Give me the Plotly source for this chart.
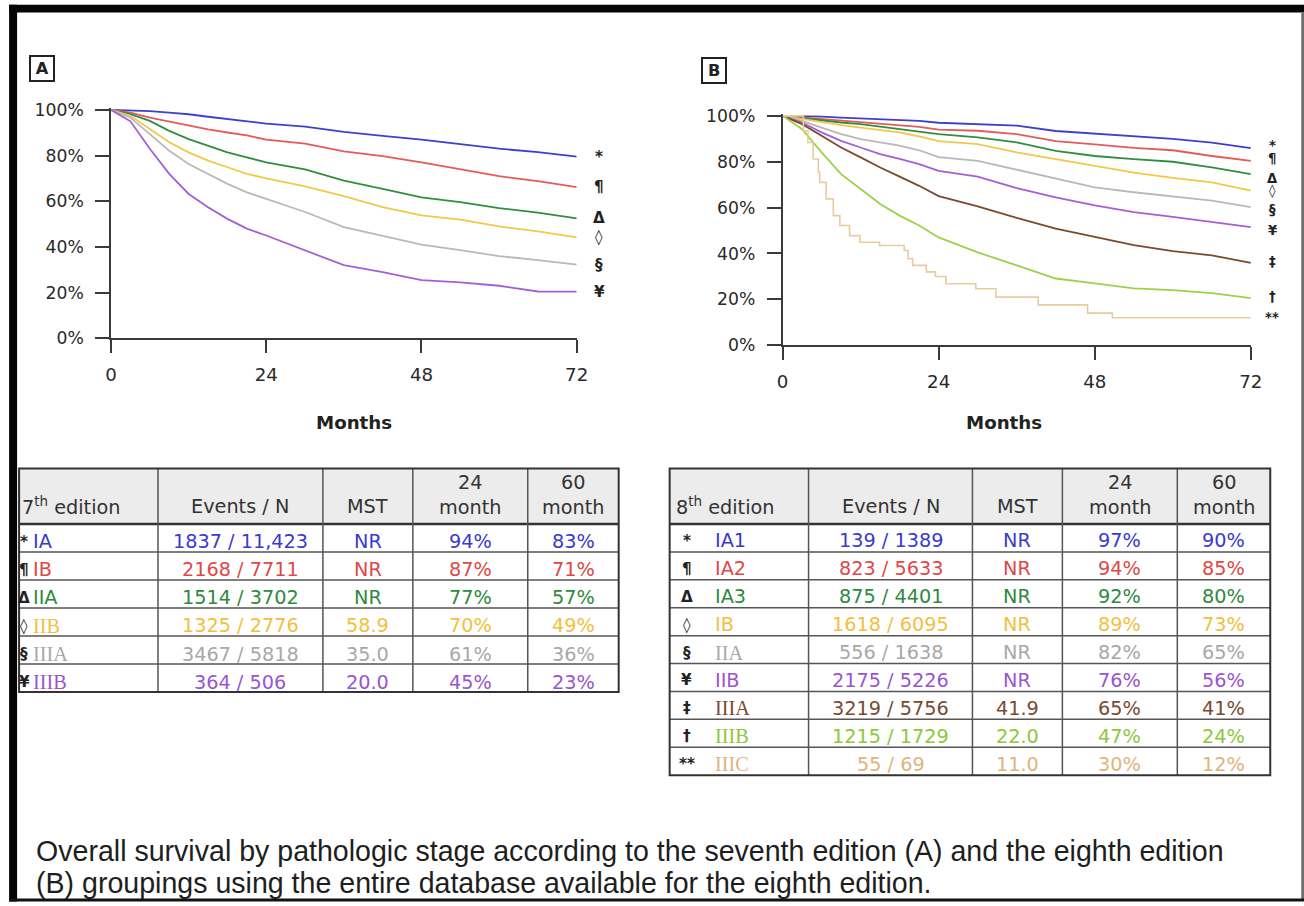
import plotly.graph_objects as go

# Layout is written in 1304 x 906 page pixels; K converts them to CSS pixels of the
# page, which carries the browser's default body margin around the figure.
PAGE_W, PAGE_H = 1304, 906
K = 1.0133
M = 8
DX, DY = 3.0, 3.5
W = round(PAGE_W * K - 2 * M)
H = round(PAGE_H * K - 2 * M)

# ---------------------------------------------------------------- data
months = [0, 3, 6, 9, 12, 15, 18, 21, 24, 30, 36, 42, 48, 54, 60, 66, 72]
x_ticks = [0, 24, 48, 72]
y_ticks = [0, 20, 40, 60, 80, 100]
y_tick_text = ["0%", "20%", "40%", "60%", "80%", "100%"]

# 7th edition, overall survival (%)
os7_ia = [100, 99.8, 99.5, 98.8, 98.1, 97.0, 95.9, 95.0, 94, 92.7, 90.4, 88.6, 87.0, 85.0, 83, 81.5, 79.5]
os7_ib = [100, 98.8, 96.6, 94.8, 93.0, 91.5, 90.1, 88.8, 87, 85.2, 81.8, 79.8, 77.0, 74.0, 71, 68.8, 66.2]
os7_iia = [100, 98.1, 95.2, 90.8, 87.2, 84.3, 81.4, 79.2, 77, 74.0, 69.0, 65.4, 61.7, 59.6, 57, 55.0, 52.5]
os7_iib = [100, 97.4, 91.6, 85.8, 81.4, 77.8, 74.9, 72.0, 70, 66.5, 62.2, 57.4, 53.8, 52.0, 49, 46.8, 44.2]
os7_iiia = [100, 96.6, 89.4, 82.1, 76.3, 71.9, 67.6, 63.9, 61, 55.3, 48.7, 45.0, 41.0, 38.6, 36, 34.2, 32.3]
os7_iiib = [100, 95.0, 83.0, 72.0, 63.2, 57.4, 52.3, 48.0, 45, 38.5, 32.0, 29.0, 25.5, 24.5, 23, 20.5, 20.4]

# 8th edition, overall survival (%)
os8_ia1 = [100, 99.9, 99.7, 99.2, 98.8, 98.5, 98.3, 97.8, 97, 96.4, 95.7, 93.4, 92.2, 91.2, 90, 88.3, 85.9]
os8_ia2 = [100, 99.3, 98.6, 97.8, 97.1, 96.4, 95.7, 95.2, 94, 93.5, 92.0, 89.0, 87.6, 86.0, 85, 82.5, 80.4]
os8_ia3 = [100, 99.0, 97.8, 97.1, 96.4, 95.3, 94.2, 93.3, 92, 90.6, 88.4, 84.7, 82.5, 81.1, 80, 77.5, 74.6]
os8_ib = [100, 98.6, 97.1, 96.0, 94.9, 93.8, 92.8, 91.0, 89, 87.7, 84.1, 81.1, 78.2, 75.3, 73, 71.0, 67.4]
os8_iia = [100, 97.8, 94.9, 92.0, 89.9, 88.4, 87.0, 85.0, 82, 80.4, 76.5, 72.4, 68.8, 66.7, 65, 63.0, 60.2]
os8_iib = [100, 97.1, 92.8, 89.1, 86.2, 83.3, 81.2, 79.0, 76, 73.5, 68.5, 64.5, 61.0, 58.0, 56, 53.7, 51.5]
os8_iiia = [100, 96.4, 91.3, 86.2, 81.9, 77.5, 73.5, 69.5, 65, 60.5, 55.5, 50.8, 47.2, 43.6, 41, 39.2, 35.9]
os8_iiib = [100, 94.2, 84.1, 74.6, 68.1, 61.6, 56.5, 52.2, 47, 40.5, 34.8, 29.1, 27.0, 24.8, 24, 22.7, 20.5]
# IIIC has few patients: drawn as explicit Kaplan-Meier steps
months_iiic = [0, 3.2, 3.9, 4.7, 5.5, 5.7, 6.7, 7.8, 8.8, 10.3, 11.9, 14.9, 18.7, 19.3, 20.0,
               22.1, 23.5, 25.1, 29.7, 32.8, 39.3, 46.9, 50.7, 72]
os8_iiic = [100, 93.5, 88.4, 81.2, 75.4, 71.0, 63.8, 56.5, 52.2, 47.8, 44.9, 43.5, 41.3, 37.7, 34.8,
            32.0, 30.0, 26.8, 24.6, 21.0, 17.6, 14.0, 12.0, 12.0]

stages7 = ["IA", "IB", "IIA", "IIB", "IIIA", "IIIB"]
symbols7 = ["*", "¶", "Δ", "◊", "§", "¥"]
events7 = ["1837 / 11,423", "2168 / 7711", "1514 / 3702", "1325 / 2776", "3467 / 5818", "364 / 506"]
mst7 = ["NR", "NR", "NR", "58.9", "35.0", "20.0"]
m24_7 = ["94%", "87%", "77%", "70%", "61%", "45%"]
m60_7 = ["83%", "71%", "57%", "49%", "36%", "23%"]

stages8 = ["IA1", "IA2", "IA3", "IB", "IIA", "IIB", "IIIA", "IIIB", "IIIC"]
symbols8 = ["*", "¶", "Δ", "◊", "§", "¥", "‡", "†", "**"]
events8 = ["139 / 1389", "823 / 5633", "875 / 4401", "1618 / 6095", "556 / 1638",
           "2175 / 5226", "3219 / 5756", "1215 / 1729", "55 / 69"]
mst8 = ["NR", "NR", "NR", "NR", "NR", "NR", "41.9", "22.0", "11.0"]
m24_8 = ["97%", "94%", "92%", "89%", "82%", "76%", "65%", "47%", "30%"]
m60_8 = ["90%", "85%", "80%", "73%", "65%", "56%", "41%", "24%", "12%"]
# symbol positions at the right end of panel B (%), spread so they do not collide
label_pos8 = [87.0, 81.2, 72.6, 67.3, 59.3, 50.2, 36.4, 21.2, 12.1]

# ---------------------------------------------------------------- styling
line_colors7 = ["#3f3fcf", "#e65a5a", "#2f8f3f", "#f3c84a", "#b9b9b9", "#a45fd6"]
text_colors7 = ["#3a3ad0", "#e04848", "#2e8a3c", "#f2c040", "#a8a8a8", "#9a55d0"]
line_colors8 = ["#3f3fcf", "#e65a5a", "#2f8f3f", "#f3c84a", "#b9b9b9", "#a45fd6",
                "#7b4a2d", "#9bd24a", "#e8cc9e"]
text_colors8 = ["#3a3ad0", "#e04848", "#2e8a3c", "#f2c040", "#a8a8a8", "#9a55d0",
                "#7a4a2e", "#8cc83c", "#e0b47c"]
serif7 = [False, False, False, True, True, True]
serif8 = [False, False, False, False, True, False, True, True, True]

SANS = "DejaVu Sans"
SERIF = "Liberation Serif"
AX = "#3a3a3a"


def px(x):
    """page x (pixels) -> paper fraction"""
    return (K * (x + DX) - M) / W


def py(y):
    """page y (pixels, from top) -> paper fraction"""
    return 1 - (K * (y + DY) - M) / H


def fs(size):
    return size * K


fig = go.Figure()

curves7 = [os7_ia, os7_ib, os7_iia, os7_iib, os7_iiia, os7_iiib]
for name, ys, col in zip(stages7, curves7, line_colors7):
    fig.add_trace(go.Scatter(x=months, y=ys, mode="lines", name=name,
                             line=dict(color=col, width=1.8), xaxis="x", yaxis="y",
                             showlegend=False, hoverinfo="skip"))

curves8 = [os8_ia1, os8_ia2, os8_ia3, os8_ib, os8_iia, os8_iib, os8_iiia, os8_iiib]
for name, ys, col in zip(stages8[:8], curves8, line_colors8[:8]):
    fig.add_trace(go.Scatter(x=months, y=ys, mode="lines", name=name,
                             line=dict(color=col, width=1.8), xaxis="x2", yaxis="y2",
                             showlegend=False, hoverinfo="skip"))
fig.add_trace(go.Scatter(x=months_iiic, y=os8_iiic, mode="lines", name="IIIC",
                         line=dict(color=line_colors8[8], width=1.6, shape="hv"),
                         xaxis="x2", yaxis="y2", showlegend=False, hoverinfo="skip"))

# ---------------------------------------------------------------- axes
YMAX = 100.8


def axis_pair(x0, x1, y0, y100):
    scale = (y0 - y100) / 100.0
    ytop = y0 - YMAX * scale
    xa = dict(domain=[px(x0), px(x1)], range=[0, 72], tickvals=x_ticks,
              showline=True, linecolor=AX, linewidth=1.6, ticks="outside",
              ticklen=round(fs(13)), tickwidth=1.6, tickcolor=AX, showgrid=False,
              zeroline=False, tickfont=dict(family=SANS, size=fs(18), color="#2a2a2a"),
              ticklabelstandoff=6, fixedrange=True)
    ya = dict(domain=[py(y0), py(ytop)], range=[0, YMAX], tickmode="array",
              tickvals=y_ticks, ticktext=y_tick_text, showline=True, linecolor=AX,
              linewidth=1.6, ticks="outside", ticklen=round(fs(14)), tickwidth=1.6,
              tickcolor=AX, showgrid=False, zeroline=False,
              tickfont=dict(family=SANS, size=fs(17), color="#2a2a2a"),
              ticklabelstandoff=8, fixedrange=True)
    return xa, ya


xa1, ya1 = axis_pair(110, 576, 337, 107)
xa2, ya2 = axis_pair(782, 1250.6, 344, 113)
ya1["anchor"] = "x"
xa1["anchor"] = "y"
ya2["anchor"] = "x2"
xa2["anchor"] = "y2"

annotations = []
shapes = []

# panel letters
for letter, cx, cy in [("A", 41, 65.5), ("B", 713, 67.5)]:
    annotations.append(dict(text="<b>%s</b>" % letter, xref="paper", yref="paper",
                            x=px(cx), y=py(cy), xanchor="center", yanchor="middle",
                            showarrow=False, width=fs(22), height=fs(23), borderwidth=2,
                            bordercolor="#222", borderpad=0,
                            font=dict(family=SANS, size=fs(16), color="#222")))

# axis titles
for cx in (353, 1004):
    annotations.append(dict(text="<b>Months</b>", xref="paper", yref="paper",
                            x=px(cx), y=py(422), xanchor="center", yanchor="middle",
                            showarrow=False,
                            font=dict(family=SANS, size=fs(18), color="#222")))

# stage symbols next to the curve ends
for sym, ys in zip(symbols7, curves7):
    annotations.append(dict(text="<b>%s</b>" % sym, xref="x", yref="y", x=72, y=ys[-1],
                            xshift=fs(22), xanchor="center", yanchor="middle",
                            showarrow=False, font=dict(family=SANS, size=fs(15), color="#222")))
for sym, yv in zip(symbols8, label_pos8):
    annotations.append(dict(text="<b>%s</b>" % sym, xref="x2", yref="y2", x=72, y=yv,
                            xshift=fs(21), xanchor="center", yanchor="middle",
                            showarrow=False, font=dict(family=SANS, size=fs(13), color="#222")))


# ---------------------------------------------------------------- tables
def draw_table(edges, y_top, header_h, row_h, edition, stages, symbols, cols,
               colors, serif, sym_x, name_x, head_x, text_dy):
    n = len(stages)
    x0, x1 = edges[0], edges[-1]
    y_head = y_top + header_h
    y_bot = y_head + n * row_h
    shapes.append(dict(type="rect", xref="paper", yref="paper", x0=px(x0), x1=px(x1),
                       y0=py(y_top), y1=py(y_head), fillcolor="#ececec",
                       line=dict(width=0), layer="below"))
    for i in range(1, n):
        yy = y_head + i * row_h
        shapes.append(dict(type="line", xref="paper", yref="paper", x0=px(x0), x1=px(x1),
                           y0=py(yy), y1=py(yy), line=dict(color="#555", width=1.5)))
    shapes.append(dict(type="line", xref="paper", yref="paper", x0=px(x0), x1=px(x1),
                       y0=py(y_head), y1=py(y_head), line=dict(color="#333", width=2.5)))
    for xe in edges[1:-1]:
        shapes.append(dict(type="line", xref="paper", yref="paper", x0=px(xe), x1=px(xe),
                           y0=py(y_top), y1=py(y_bot), line=dict(color="#555", width=1.5)))
    shapes.append(dict(type="rect", xref="paper", yref="paper", x0=px(x0), x1=px(x1),
                       y0=py(y_top), y1=py(y_bot), line=dict(color="#333", width=2)))

    hfont = dict(family=SANS, size=fs(19), color="#333")
    annotations.append(dict(text=edition, xref="paper", yref="paper", x=px(head_x),
                            y=py(y_top + header_h * 0.68), xanchor="left", yanchor="middle",
                            showarrow=False, font=hfont))
    heads = ["Events / N", "MST", "24<br>month", "60<br>month"]
    for j, hd in enumerate(heads):
        cx = (edges[j + 1] + edges[j + 2]) / 2
        two = "<br>" in hd
        cy = y_top + header_h * (0.47 if two else 0.68)
        annotations.append(dict(text=hd, xref="paper", yref="paper", x=px(cx), y=py(cy),
                                xanchor="center", yanchor="middle", showarrow=False,
                                font=hfont))

    for i in range(n):
        cy = y_head + (i + 0.5) * row_h + text_dy
        annotations.append(dict(text="<b>%s</b>" % symbols[i], xref="paper", yref="paper",
                                x=px(sym_x), y=py(cy), xanchor="center", yanchor="middle",
                                showarrow=False,
                                font=dict(family=SANS, size=fs(15), color="#222")))
        fam, size = (SERIF, 20) if serif[i] else (SANS, 19)
        annotations.append(dict(text=stages[i], xref="paper", yref="paper", x=px(name_x),
                                y=py(cy), xanchor="left", yanchor="middle", showarrow=False,
                                font=dict(family=fam, size=fs(size), color=colors[i])))
        for j, col in enumerate(cols):
            cx = (edges[j + 1] + edges[j + 2]) / 2
            annotations.append(dict(text=col[i], xref="paper", yref="paper", x=px(cx),
                                    y=py(cy), xanchor="center", yanchor="middle",
                                    showarrow=False,
                                    font=dict(family=SANS, size=fs(19), color=colors[i])))


draw_table([18, 157, 322, 412, 527, 618], 468, 56, 28.2, "7<sup>th</sup> edition",
           stages7, symbols7, [events7, mst7, m24_7, m60_7], text_colors7, serif7,
           sym_x=23, name_x=30, head_x=19, text_dy=4)
draw_table([669, 808, 972, 1062, 1177, 1270], 468, 56, 28.1, "8<sup>th</sup> edition",
           stages8, symbols8, [events8, mst8, m24_8, m60_8], text_colors8, serif8,
           sym_x=686, name_x=712, head_x=673, text_dy=3)

# ---------------------------------------------------------------- caption
cap_font = dict(family="Liberation Sans", size=fs(28.2), color="#1e1e1e")
annotations.append(dict(text="Overall survival by pathologic stage according to the seventh "
                             "edition (A) and the eighth edition",
                        xref="paper", yref="paper", x=px(33), y=py(853), xanchor="left",
                        yanchor="middle", showarrow=False, font=cap_font))
annotations.append(dict(text="(B) groupings using the entire database available for the "
                             "eighth edition.",
                        xref="paper", yref="paper", x=px(33), y=py(885), xanchor="left",
                        yanchor="middle", showarrow=False, font=cap_font))

# ---------------------------------------------------------------- frame
def prect(x0, y0, x1, y1, color):
    shapes.append(dict(type="rect", xref="paper", yref="paper", x0=px(x0), x1=px(x1),
                       y0=py(y0), y1=py(y1), fillcolor=color, line=dict(width=0)))


prect(8, 1, 16, 904, "#050505")
prect(8, 1, PAGE_W, 9, "#050505")
prect(1301, 9, PAGE_W, 903, "#707070")
prect(8, 901, PAGE_W, 904, "#111111")

fig.update_layout(
    width=W, height=H, margin=dict(l=0, r=0, t=0, b=0),
    paper_bgcolor="white", plot_bgcolor="rgba(0,0,0,0)",
    xaxis=xa1, yaxis=ya1, xaxis2=xa2, yaxis2=ya2,
    annotations=annotations, shapes=shapes, showlegend=False,
)

fig.write_html("out.html")
